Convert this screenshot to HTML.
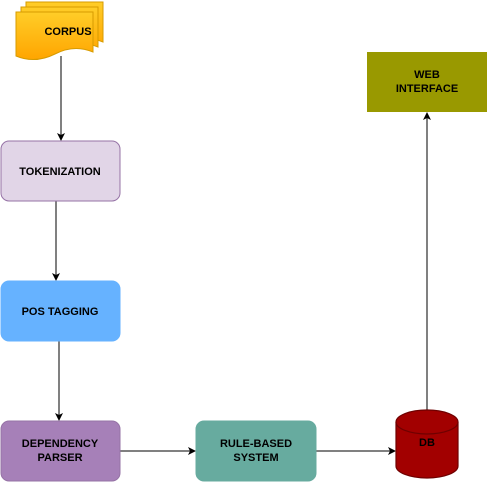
<!DOCTYPE html>
<html><head><style>body{margin:0;background:#fff}</style></head><body>
<svg width="487" height="483" xmlns="http://www.w3.org/2000/svg" font-family="Liberation Sans, sans-serif" font-size="11" font-weight="bold">
<defs>
<linearGradient id="g" x1="0" y1="0" x2="0" y2="1"><stop offset="0" stop-color="#ffcd28"/><stop offset="1" stop-color="#ffa500"/></linearGradient>
<marker id="a" markerWidth="8" markerHeight="8" refX="7" refY="4" orient="auto" markerUnits="userSpaceOnUse"><path d="M0,0 L8,4 L0,8 L2,4z" fill="#000"/></marker>
</defs>
<g stroke="#d79b00" fill="url(#g)">
<path d="M26,2 h77 v40 q-19,-8 -38,2 q-20,10 -39,2z"/>
<path d="M21,7 h77 v40 q-19,-8 -38,2 q-20,10 -39,2z"/>
<path d="M16,12 h77 v40 q-19,-8 -38,2 q-20,10 -39,2z"/>
</g>
<text x="68" y="35" text-anchor="middle">CORPUS</text>
<g stroke="#000" marker-end="url(#a)">
<line x1="61" y1="56" x2="61" y2="140"/>
<line x1="56" y1="201" x2="56" y2="280"/>
<line x1="59" y1="341" x2="59" y2="420"/>
<line x1="120" y1="451" x2="195" y2="451"/>
<line x1="316" y1="451" x2="395" y2="451"/>
<line x1="427" y1="410" x2="427" y2="113"/>
</g>
<rect x="1" y="141" width="119" height="60" rx="8" fill="#e1d5e7" stroke="#9673a6"/>
<text x="60" y="175" text-anchor="middle">TOKENIZATION</text>
<rect x="1" y="281" width="119" height="60" rx="8" fill="#66b2ff" stroke="#66b2ff"/>
<text x="60" y="315" text-anchor="middle">POS TAGGING</text>
<rect x="1" y="421" width="119" height="60" rx="8" fill="#a680b8" stroke="#9673a6"/>
<text x="60" y="447" text-anchor="middle">DEPENDENCY</text><text x="60" y="461" text-anchor="middle">PARSER</text>
<rect x="196" y="421" width="120" height="60" rx="8" fill="#67ab9f" stroke="#67ab9f"/>
<text x="256" y="447" text-anchor="middle">RULE-BASED</text><text x="256" y="461" text-anchor="middle">SYSTEM</text>
<rect x="367" y="52" width="120" height="60" fill="#999900"/>
<text x="427" y="78" text-anchor="middle">WEB</text><text x="427" y="92" text-anchor="middle">INTERFACE</text>
<path d="M396,422 v44 a31,12 0 0 0 62,0 v-44" fill="#a20000" stroke="#6f0000" stroke-width="1.2"/>
<ellipse cx="427" cy="422" rx="31" ry="12" fill="#a20000" stroke="#6f0000" stroke-width="1.2"/>
<text x="427" y="446" text-anchor="middle">DB</text>
</svg>
</body></html>
